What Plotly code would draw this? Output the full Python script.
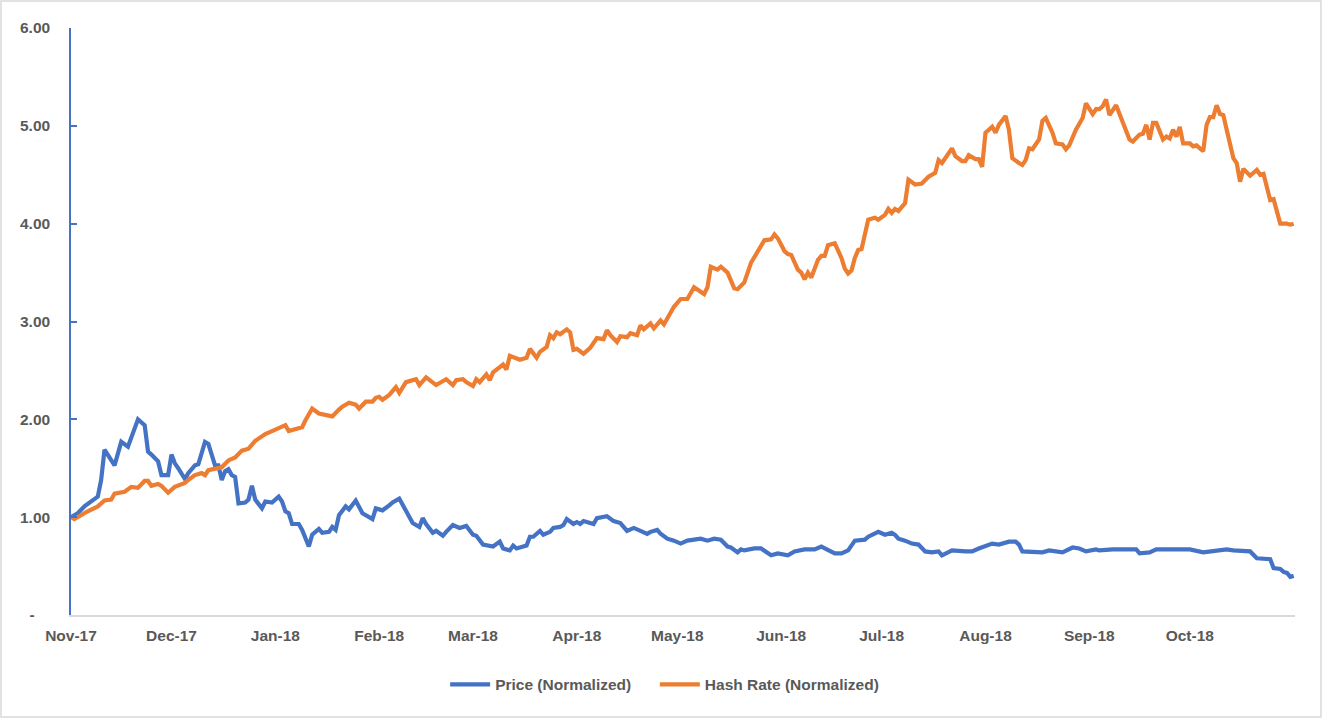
import pandas as pd
import plotly.graph_objects as go

START = "2017-11-01"

# Price (Normalized): (days since 2017-11-01, value)
price_points = [
    (0, 1.00), (2, 1.04), (4, 1.11), (6, 1.16), (8, 1.21), (9, 1.38), (10, 1.69), (13, 1.53),
    (15, 1.77), (17, 1.72), (20, 2.00), (22, 1.94), (23, 1.67), (24, 1.64), (26, 1.57), (27, 1.43),
    (29, 1.43), (30, 1.64), (31, 1.55), (32, 1.50), (34, 1.39), (35, 1.45), (37, 1.53), (38, 1.54),
    (40, 1.77), (41, 1.75), (42, 1.62), (43, 1.53), (44, 1.53), (45, 1.38), (46, 1.47), (47, 1.49),
    (48, 1.43), (49, 1.41), (50, 1.14), (52, 1.15), (53, 1.18), (54, 1.32), (55, 1.18), (57, 1.09),
    (58, 1.16), (60, 1.15), (62, 1.21), (63, 1.16), (64, 1.06), (65, 1.04), (66, 0.93), (68, 0.93),
    (69, 0.87), (71, 0.70), (72, 0.82), (73, 0.85), (74, 0.88), (75, 0.84), (77, 0.85), (78, 0.90),
    (79, 0.87), (80, 1.02), (82, 1.11), (83, 1.08), (85, 1.17), (87, 1.04), (88, 1.02), (90, 0.98),
    (91, 1.09), (93, 1.07), (95, 1.12), (96, 1.15), (98, 1.19), (100, 1.06), (102, 0.94), (104, 0.90),
    (105, 0.99), (106, 0.93), (108, 0.84), (109, 0.86), (111, 0.81), (112, 0.85), (114, 0.92), (116, 0.89),
    (118, 0.91), (120, 0.82), (121, 0.81), (123, 0.72), (125, 0.70), (126, 0.70), (128, 0.75), (129, 0.68),
    (131, 0.66), (132, 0.71), (133, 0.68), (136, 0.71), (137, 0.80), (138, 0.80), (140, 0.86), (141, 0.82),
    (143, 0.85), (144, 0.89), (146, 0.90), (147, 0.92), (148, 0.98), (150, 0.93), (151, 0.95), (152, 0.93),
    (153, 0.96), (156, 0.93), (157, 0.99), (160, 1.01), (162, 0.96), (164, 0.94), (166, 0.86), (168, 0.89),
    (170, 0.86), (172, 0.83), (173, 0.85), (175, 0.87), (176, 0.83), (178, 0.78), (180, 0.76), (182, 0.73),
    (184, 0.76), (186, 0.77), (188, 0.78), (190, 0.76), (192, 0.78), (194, 0.77), (196, 0.70), (197, 0.69),
    (199, 0.64), (200, 0.67), (201, 0.66), (204, 0.68), (206, 0.68), (209, 0.61), (211, 0.63), (214, 0.61),
    (216, 0.65), (219, 0.67), (222, 0.67), (224, 0.70), (226, 0.67), (228, 0.63), (230, 0.63), (232, 0.66),
    (234, 0.76), (237, 0.77), (238, 0.80), (241, 0.85), (243, 0.82), (245, 0.84), (246, 0.82), (247, 0.78),
    (249, 0.76), (251, 0.73), (253, 0.72), (255, 0.65), (257, 0.64), (259, 0.65), (260, 0.61), (262, 0.65),
    (263, 0.66), (267, 0.65), (269, 0.65), (271, 0.68), (275, 0.73), (277, 0.72), (280, 0.75), (282, 0.75),
    (283, 0.72), (284, 0.65), (286, 0.65), (287, 0.64), (290, 0.64), (292, 0.66), (296, 0.64), (299, 0.69),
    (301, 0.68), (303, 0.65), (306, 0.67), (307, 0.66), (311, 0.67), (318, 0.67), (319, 0.63), (322, 0.64),
    (324, 0.67), (328, 0.67), (334, 0.67), (338, 0.64), (341, 0.65), (345, 0.67), (347, 0.66), (352, 0.65),
    (354, 0.58), (356, 0.57), (358, 0.57), (359, 0.48), (361, 0.47), (362, 0.44), (363, 0.43), (364, 0.39),
    (365, 0.40),
]

# Hash Rate (Normalized): (days since 2017-11-01, value)
hash_points = [
    (0, 1.00), (1, 0.98), (5, 1.06), (8, 1.11), (10, 1.17), (12, 1.18), (13, 1.24), (16, 1.26),
    (18, 1.31), (20, 1.30), (22, 1.37), (23, 1.37), (24, 1.32), (26, 1.34), (27, 1.32), (29, 1.25),
    (31, 1.31), (34, 1.35), (35, 1.38), (37, 1.43), (39, 1.45), (40, 1.43), (41, 1.48), (43, 1.49),
    (45, 1.51), (47, 1.58), (49, 1.61), (51, 1.68), (53, 1.70), (55, 1.78), (58, 1.85), (60, 1.88),
    (62, 1.91), (64, 1.94), (65, 1.88), (67, 1.90), (69, 1.92), (70, 1.99), (72, 2.11), (74, 2.06),
    (76, 2.04), (78, 2.03), (80, 2.10), (81, 2.13), (83, 2.17), (85, 2.15), (86, 2.11), (88, 2.18),
    (90, 2.18), (91, 2.22), (92, 2.23), (93, 2.20), (95, 2.25), (97, 2.33), (98, 2.27), (100, 2.38),
    (103, 2.41), (104, 2.35), (106, 2.43), (109, 2.35), (112, 2.41), (114, 2.35), (115, 2.40), (117, 2.41),
    (118, 2.38), (120, 2.34), (121, 2.41), (122, 2.38), (124, 2.46), (125, 2.40), (126, 2.48), (129, 2.56),
    (130, 2.51), (131, 2.65), (134, 2.61), (136, 2.63), (137, 2.72), (139, 2.63), (140, 2.69), (142, 2.74),
    (143, 2.86), (144, 2.83), (145, 2.89), (146, 2.87), (148, 2.92), (149, 2.89), (150, 2.71), (151, 2.72),
    (153, 2.67), (155, 2.73), (157, 2.83), (159, 2.82), (160, 2.91), (161, 2.86), (163, 2.79), (164, 2.85),
    (166, 2.84), (167, 2.88), (169, 2.86), (170, 2.96), (171, 2.92), (173, 2.98), (174, 2.93), (176, 3.01),
    (177, 2.97), (179, 3.09), (180, 3.15), (182, 3.23), (184, 3.23), (186, 3.35), (187, 3.33), (189, 3.28),
    (190, 3.35), (191, 3.56), (193, 3.53), (194, 3.56), (196, 3.50), (198, 3.34), (199, 3.33), (201, 3.40),
    (203, 3.60), (205, 3.72), (207, 3.83), (209, 3.84), (210, 3.89), (211, 3.85), (213, 3.72), (214, 3.69),
    (215, 3.68), (217, 3.53), (218, 3.50), (219, 3.43), (220, 3.50), (221, 3.45), (223, 3.63), (224, 3.67),
    (225, 3.67), (226, 3.78), (228, 3.80), (230, 3.65), (231, 3.54), (232, 3.49), (233, 3.52), (234, 3.65),
    (235, 3.73), (236, 3.74), (237, 3.87), (238, 4.04), (240, 4.06), (241, 4.04), (243, 4.09), (244, 4.15),
    (245, 4.11), (246, 4.15), (247, 4.13), (249, 4.21), (250, 4.45), (252, 4.40), (254, 4.41), (255, 4.45),
    (256, 4.48), (258, 4.52), (259, 4.65), (260, 4.62), (263, 4.77), (264, 4.69), (266, 4.64), (267, 4.64),
    (268, 4.70), (270, 4.66), (271, 4.66), (272, 4.58), (273, 4.93), (275, 4.99), (276, 4.93), (277, 5.01),
    (279, 5.10), (280, 4.96), (281, 4.67), (283, 4.62), (284, 4.60), (285, 4.65), (286, 4.77), (287, 4.76),
    (289, 4.86), (290, 5.05), (291, 5.08), (293, 4.93), (294, 4.82), (296, 4.81), (297, 4.76), (298, 4.80),
    (300, 4.96), (302, 5.08), (303, 5.23), (305, 5.12), (306, 5.17), (307, 5.17), (308, 5.20), (309, 5.27),
    (310, 5.11), (312, 5.21), (314, 5.04), (316, 4.86), (317, 4.84), (319, 4.91), (320, 4.92), (321, 5.01),
    (322, 4.86), (323, 5.03), (324, 5.03), (326, 4.86), (327, 4.89), (328, 4.87), (329, 4.96), (330, 4.89),
    (331, 4.99), (332, 4.82), (334, 4.82), (335, 4.79), (336, 4.80), (338, 4.74), (339, 5.01), (340, 5.09),
    (341, 5.09), (342, 5.21), (343, 5.12), (344, 5.11), (345, 4.96), (347, 4.67), (348, 4.62), (349, 4.43),
    (350, 4.56), (352, 4.49), (354, 4.55), (355, 4.50), (356, 4.51), (358, 4.24), (359, 4.25), (361, 4.00),
    (363, 4.00), (364, 3.99), (365, 4.00),
]

price_days = [d for d, _ in price_points]
price_values = [v for _, v in price_points]
hash_days = [d for d, _ in hash_points]
hash_values = [v for _, v in hash_points]

series_names = ["Price (Normalized)", "Hash Rate (Normalized)"]

month_ticks = pd.date_range("2017-11-01", "2018-10-01", freq="MS")
y_tickvals = [0, 1, 2, 3, 4, 5, 6]
y_ticktext = ["-\u2002\u2002", "1.00", "2.00", "3.00", "4.00", "5.00", "6.00"]

start = pd.Timestamp(START)
price_dates = start + pd.to_timedelta(price_days, unit="D")
hash_dates = start + pd.to_timedelta(hash_days, unit="D")

BLUE = "#4472C4"
ORANGE = "#ED7D31"
TXT = "#595959"
LFONT = "Liberation Sans, Arial, sans-serif"

fig = go.Figure()
fig.add_trace(go.Scatter(x=price_dates, y=price_values, mode="lines",
                         name=series_names[0] + "\u2003\u2009",
                         line=dict(color=BLUE, width=4.2)))
fig.add_trace(go.Scatter(x=hash_dates, y=hash_values, mode="lines",
                         name=series_names[1], line=dict(color=ORANGE, width=4.2)))

fig.update_layout(
    width=1323, height=719,
    margin=dict(l=71, r=28, t=28, b=104),
    paper_bgcolor="white", plot_bgcolor="white",
    font=dict(family=LFONT, size=15.5, color=TXT, weight="bold"),
    showlegend=True,
    legend=dict(orientation="h", x=0.485, xanchor="center", y=-0.119, yanchor="middle",
                font=dict(family=LFONT, size=15.5, color=TXT, weight="bold"),
                itemwidth=40, traceorder="normal"),
    xaxis=dict(
        type="date",
        range=[start, start + pd.Timedelta(days=365.4)],
        tickvals=month_ticks, tickformat="%b-%y",
        showgrid=False, zeroline=False,
        showline=True, linecolor="#D9D9D9", linewidth=1.5,
        ticks="", ticklabelstandoff=6,
        tickfont=dict(family=LFONT, size=15.5, color=TXT, weight="bold"),
    ),
    yaxis=dict(
        range=[0, 6], tickvals=y_tickvals, ticktext=y_ticktext,
        showgrid=False, zeroline=False,
        showline=True, linecolor=BLUE, linewidth=1.5,
        ticks="inside", ticklen=6, tickcolor=BLUE, tickwidth=1.5,
        ticklabelstandoff=16,
        tickfont=dict(family=LFONT, size=15.5, color=TXT, weight="bold"),
    ),
    shapes=[dict(type="rect", xref="paper", yref="paper",
                 x0=-0.0572, x1=1.0212, y0=-0.1738, y1=1.046,
                 line=dict(color="#D9D9D9", width=1.5), fillcolor="rgba(0,0,0,0)")],
)

fig.write_html(
    "out.html",
    config={"displayModeBar": False},
    post_script="document.body.style.margin='0';document.body.style.overflow='hidden';",
)
